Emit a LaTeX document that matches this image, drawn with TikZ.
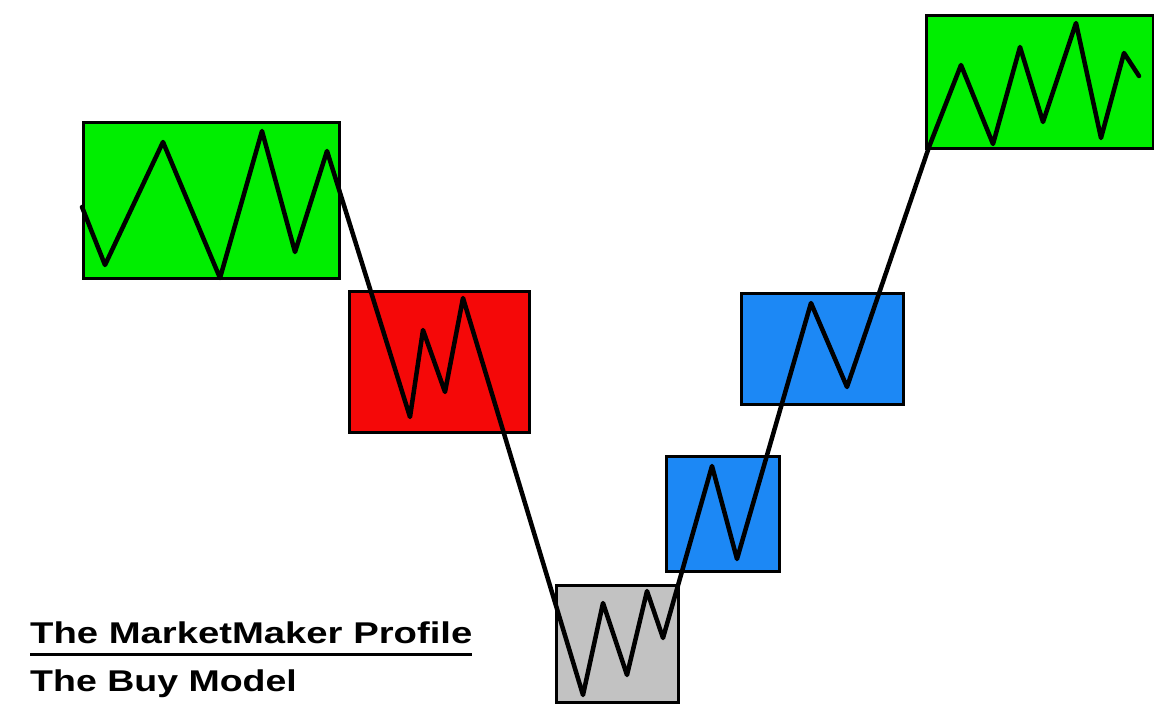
\documentclass[tikz,border=0pt]{standalone}
\usepackage{fontspec}
\setmainfont{Liberation Sans}
\definecolor{mmgreen}{RGB}{0,238,0}
\definecolor{mmred}{RGB}{245,8,8}
\definecolor{mmgray}{RGB}{194,194,194}
\definecolor{mmblue}{RGB}{28,136,245}
\begin{document}
\begin{tikzpicture}[x=1pt,y=-1pt,
  mmbox/.style={draw=black, line width=3.2pt, inner sep=0pt, anchor=north west},
  price/.style={draw=black, line width=4.5pt, line join=round, line cap=round},
  title/.style={inner sep=0pt, anchor=base west, font=\fontsize{30}{36}\selectfont\bfseries}]
\useasboundingbox[fill=white] (0,0) rectangle (1154,706);
% boxes
\node[mmbox, fill=mmgreen, minimum width=256pt, minimum height=156pt] (g1) at (82,121) {};
\node[mmbox, fill=mmred, minimum width=180pt, minimum height=141pt] (r1) at (348,290) {};
\node[mmbox, fill=mmgray, minimum width=122pt, minimum height=117pt] (k1) at (555,584) {};
\node[mmbox, fill=mmblue, minimum width=113pt, minimum height=115pt] (b1) at (665,455) {};
\node[mmbox, fill=mmblue, minimum width=162pt, minimum height=111pt] (b2) at (740,292) {};
\node[mmbox, fill=mmgreen, minimum width=227pt, minimum height=133pt] (g2) at (925,14) {};
% price path points
\coordinate (p1) at (82,207);
\coordinate (p2) at (105,265);
\coordinate (p3) at (163,142);
\coordinate (p4) at (220,278);
\coordinate (p5) at (262,131);
\coordinate (p6) at (295,252);
\coordinate (p7) at (327,151);
\coordinate (p8) at (410,417);
\coordinate (p9) at (423,330);
\coordinate (p10) at (445,392);
\coordinate (p11) at (463,298);
\coordinate (p12) at (583,695);
\coordinate (p13) at (603,603);
\coordinate (p14) at (627,675);
\coordinate (p15) at (647,591);
\coordinate (p16) at (663,638);
\coordinate (p17) at (712,466);
\coordinate (p18) at (737,559);
\coordinate (p19) at (811,303);
\coordinate (p20) at (847,387);
\coordinate (p21) at (929,147);
\coordinate (p22) at (961,65);
\coordinate (p23) at (993,144);
\coordinate (p24) at (1020,47);
\coordinate (p25) at (1043,122);
\coordinate (p26) at (1076,23);
\coordinate (p27) at (1101,138);
\coordinate (p28) at (1124,53);
\coordinate (p29) at (1139,76);
\draw[price] (p1) -- (p2) -- (p3) -- (p4) -- (p5) -- (p6) -- (p7) -- (p8) -- (p9) -- (p10) -- (p11) -- (p12) -- (p13) -- (p14) -- (p15) -- (p16) -- (p17) -- (p18) -- (p19) -- (p20) -- (p21) -- (p22) -- (p23) -- (p24) -- (p25) -- (p26) -- (p27) -- (p28) -- (p29);
% titles
\node[title] (t1) at (30,643) {\scalebox{1.275}[1]{The MarketMaker Profile}};
\node[title] (t2) at (30,691) {\scalebox{1.25}[1]{The Buy Model}};
\coordinate (u1) at (30,654);
\coordinate (u2) at (472,654);
\draw[line width=3pt] (u1) -- (u2);
\end{tikzpicture}
\end{document}
